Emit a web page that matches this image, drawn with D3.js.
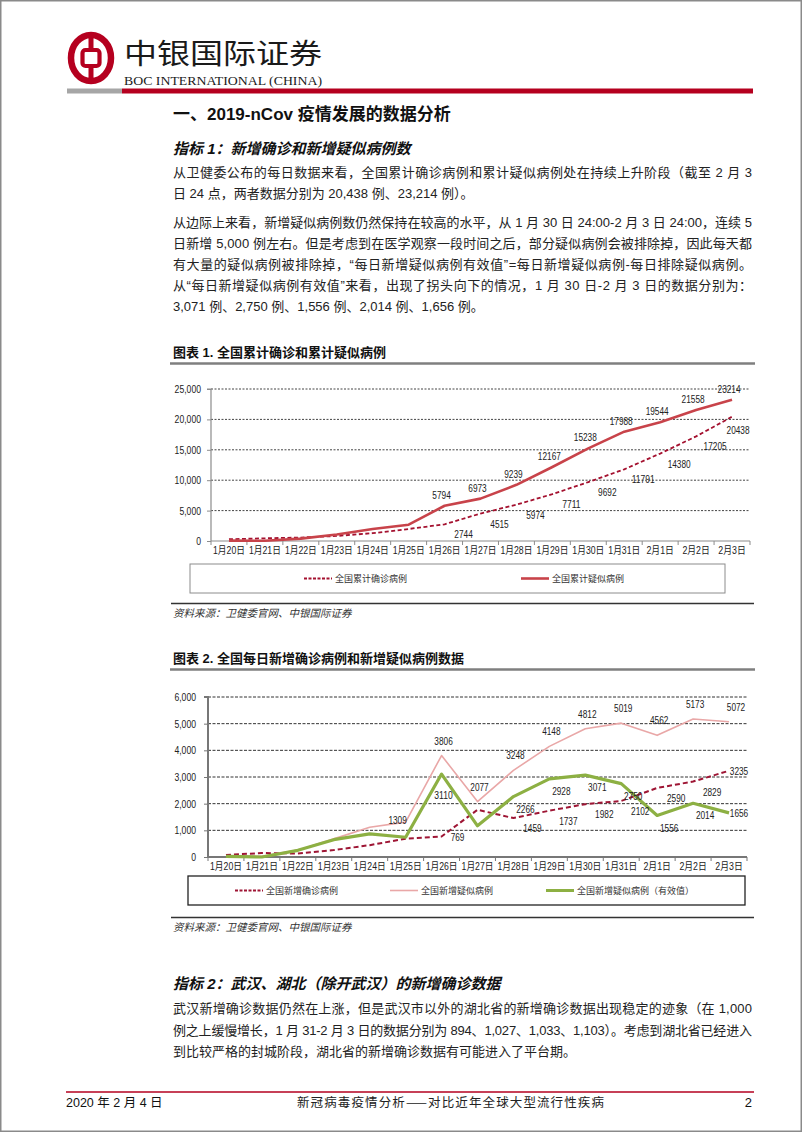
<!DOCTYPE html>
<html><head><meta charset="utf-8">
<script src="https://cdn.jsdelivr.net/npm/d3@7/dist/d3.min.js"></script>
<style>
html,body{margin:0;padding:0;background:#fff;}
svg{display:block;}
</style></head><body>
<svg id="page" width="802" height="1132"></svg>
<script>
// ---------------- DATA ----------------
const dates = ["1月20日","1月21日","1月22日","1月23日","1月24日","1月25日","1月26日","1月27日","1月28日","1月29日","1月30日","1月31日","2月1日","2月2日","2月3日"];

// Chart 1: cumulative
const cumConfirmed = [291,440,571,830,1287,1975,2744,4515,5974,7711,9692,11791,14380,17205,20438];
const cumSuspected = [54,37,393,1072,1965,2684,5794,6973,9239,12167,15238,17988,19544,21558,23214];
const cumTicks = [0,5000,10000,15000,20000,25000];
const cumConfirmedLabeled = [6,7,8,9,10,11,12,13,14];
const cumSuspectedLabeled = [6,7,8,9,10,11,12,13,14];

// Chart 2: daily
const newConfirmed = [77,149,131,259,444,688,769,1771,1459,1737,1982,2102,2590,2829,3235];
const newSuspected = [27,26,257,680,1118,1309,3806,2077,3248,4148,4812,5019,4562,5173,5072];
const newSuspectedEffective = [27,0,250,650,870,740,3110,1170,2266,2928,3071,2750,1556,2014,1656];
const dailyTicks = [0,1000,2000,3000,4000,5000,6000];
const newConfirmedLabeled = [6,8,9,10,11,12,13,14];
const newSuspectedLabeled = [5,6,7,8,9,10,11,12,13,14];
const newEffectiveLabeled = [6,8,9,10,11,12,13,14];

// text content
const para1 = ["从卫健委公布的每日数据来看，全国累计确诊病例和累计疑似病例处在持续上升阶段（截至 2 月 3",
               "日 24 点，两者数据分别为 20,438 例、23,214 例）。"];
const para2 = ["从边际上来看，新增疑似病例数仍然保持在较高的水平，从 1 月 30 日 24:00-2 月 3 日 24:00，连续 5",
               "日新增 5,000 例左右。但是考虑到在医学观察一段时间之后，部分疑似病例会被排除掉，因此每天都",
               "有大量的疑似病例被排除掉，“每日新增疑似病例有效值”=每日新增疑似病例-每日排除疑似病例。",
               "从“每日新增疑似病例有效值”来看，出现了拐头向下的情况，1 月 30 日-2 月 3 日的数据分别为：",
               "3,071 例、2,750 例、1,556 例、2,014 例、1,656 例。"];
const para3 = ["武汉新增确诊数据仍然在上涨，但是武汉市以外的湖北省的新增确诊数据出现稳定的迹象（在 1,000",
               "例之上缓慢增长，1 月 31-2 月 3 日的数据分别为 894、1,027、1,033、1,103）。考虑到湖北省已经进入",
               "到比较严格的封城阶段，湖北省的新增确诊数据有可能进入了平台期。"];

// ---------------- DRAW ----------------
const CJK = "'Noto Sans CJK SC','Noto Sans',sans-serif";
const MIX = "'Liberation Sans Narrow','Liberation Sans','Noto Sans CJK SC',sans-serif";
const SANS = "'Liberation Sans','Noto Sans CJK SC',sans-serif";
const RED = "#B5001F";
const svg = d3.select("#page");

// width of a condensed label: narrow digits, full-width CJK
function condensedLen(s, digitW, cjkW){
  let w = 0;
  for (const ch of String(s)) {
    if (/[0-9]/.test(ch)) w += digitW;
    else if (ch === ",") w += digitW*0.5;
    else w += cjkW;
  }
  return w;
}

// page border
svg.append("rect").attr("x",0.75).attr("y",0.75).attr("width",800.5).attr("height",1130.5)
  .attr("fill","#fff").attr("stroke","#8a8a8a").attr("stroke-width",1.5);

// header logo
const logo = svg.append("g");
logo.append("ellipse").attr("cx",91).attr("cy",58).attr("rx",20).attr("ry",23).attr("fill","none").attr("stroke",RED).attr("stroke-width",6.5);
logo.append("rect").attr("x",88.5).attr("y",33).attr("width",5).attr("height",50).attr("fill",RED);
logo.append("rect").attr("x",82.5).attr("y",50).attr("width",17).attr("height",16).attr("rx",3)
  .attr("fill","#fff").attr("stroke",RED).attr("stroke-width",4.2);
svg.append("text").attr("x",124).attr("y",64).attr("font-family",CJK).attr("font-size",28)
  .attr("textLength",198).attr("lengthAdjust","spacingAndGlyphs").attr("fill","#1a1a1a").text("中银国际证券");
svg.append("text").attr("x",124).attr("y",85).attr("font-family","'Liberation Serif',serif").attr("font-size",13)
  .attr("textLength",198).attr("lengthAdjust","spacingAndGlyphs").attr("fill","#1a1a1a").text("BOC INTERNATIONAL (CHINA)");
svg.append("rect").attr("x",67).attr("y",88.5).attr("width",55).attr("height",5).attr("fill","#a6a6a6");
svg.append("rect").attr("x",122).attr("y",88.5).attr("width",631).attr("height",5).attr("fill",RED);

// headings and paragraphs
function text(x,y,s,o={}){
  const t = svg.append("text").attr("x",x).attr("y",y).text(s)
    .attr("font-family",o.family||MIX).attr("font-size",o.size||13)
    .attr("fill",o.fill||"#222");
  if(o.weight) t.attr("font-weight",o.weight);
  if(o.style) t.attr("font-style",o.style);
  if(o.len) t.attr("textLength",o.len).attr("lengthAdjust",o.adjust||"spacing");
  if(o.anchor) t.attr("text-anchor",o.anchor);
  return t;
}
const LX = 173, LW = 579;
text(LX,120,"一、2019-nCov 疫情发展的数据分析",{size:17,weight:"bold",family:SANS,fill:"#111"});
text(LX,153.5,"指标 1：新增确诊和新增疑似病例数",{size:15,weight:"bold",style:"italic",fill:"#111"});
[177,198].forEach((y,i)=>text(LX,y,para1[i],{len: i<para1.length-1?LW:null}));
[227,248,269,290,311].forEach((y,i)=>text(LX,y,para2[i],{len: i<para2.length-1?LW:null}));

text(LX,989,"指标 2：武汉、湖北（除开武汉）的新增确诊数据",{size:15,weight:"bold",style:"italic",fill:"#111"});
[1013,1034.5,1056].forEach((y,i)=>text(LX,y,para3[i],{len: i<para3.length-1?LW:null}));

// chart helper
function chart(cfg){
  const g = svg.append("g");
  // title
  text(LX,cfg.titleY,cfg.title,{size:13,weight:"bold",fill:"#111"});
  g.append("line").attr("x1",170).attr("x2",755).attr("y1",cfg.titleY+7).attr("y2",cfg.titleY+7)
    .attr("stroke","#7f7f7f").attr("stroke-width",2.5);

  const x = d3.scaleBand().domain(dates).range([cfg.x0,cfg.x1]);
  const y = d3.scaleLinear().domain([0,d3.max(cfg.ticks)]).range([cfg.yb,cfg.yt]);
  const cx = i => x(dates[i]) + x.bandwidth()/2;

  // gridlines
  g.append("g").selectAll("line").data(cfg.ticks.filter(t=>t>0)).join("line")
    .attr("x1",cfg.x0).attr("x2",cfg.x1).attr("y1",d=>y(d)).attr("y2",d=>y(d))
    .attr("stroke",cfg.gridColor).attr("stroke-width",1).attr("stroke-dasharray",cfg.gridDash);

  // y axis
  const fmt = d3.format(",");
  const ya = g.append("g").attr("transform",`translate(${cfg.x0},0)`)
    .call(d3.axisLeft(y).tickValues(cfg.ticks).tickFormat(fmt).tickSize(4).tickPadding(cfg.yPad));
  ya.select(".domain").attr("stroke",cfg.axisColor).attr("stroke-width",cfg.axisWidth).attr("d",`M-4,${cfg.yt}H0V${cfg.yb}`);
  ya.selectAll(".tick line").attr("stroke",cfg.axisColor);
  ya.selectAll(".tick text").attr("font-family",SANS).attr("font-size",11).attr("fill","#222")
    .attr("textLength",d=>condensedLen(fmt(d),4.8,9.5)).attr("lengthAdjust","spacingAndGlyphs");

  // x axis
  const xa = g.append("g").attr("transform",`translate(0,${cfg.yb})`)
    .call(d3.axisBottom(x).tickSize(0).tickPadding(cfg.xPad));
  xa.select(".domain").attr("stroke",cfg.axisColor).attr("stroke-width",cfg.axisWidth).attr("d",`M${cfg.x0},0H${cfg.x1}`);
  xa.selectAll(".tick text").attr("font-family",SANS).attr("font-size",10).attr("fill","#222")
    .attr("textLength",d=>condensedLen(d,4.5,9.2)).attr("lengthAdjust","spacingAndGlyphs");
  xa.append("g").selectAll("line").data(dates.map(d=>x(d)).concat([cfg.x1])).join("line")
    .attr("x1",d=>d).attr("x2",d=>d).attr("y1",0).attr("y2",4).attr("stroke",cfg.axisColor).attr("stroke-width",1);

  // series
  cfg.series.forEach(s=>{
    const line = d3.line().x((d,i)=>cx(i)).y(d=>y(d));
    g.append("path").datum(s.values).attr("d",line).attr("fill","none")
      .attr("stroke",s.color).attr("stroke-width",s.width).attr("stroke-dasharray",s.dash||null)
      .attr("stroke-linejoin","round");
  });
  cfg.series.forEach(s=>{
    g.append("g").selectAll("text").data(s.labeled).join("text")
      .attr("x",i=>cx(i)+s.ldx(i)).attr("y",i=>y(s.values[i])+s.ldy(i))
      .attr("text-anchor","middle").attr("dominant-baseline","central")
      .attr("font-family",SANS).attr("font-size",11).attr("fill","#222")
      .attr("textLength",i=>condensedLen(s.values[i],4.6,9)).attr("lengthAdjust","spacingAndGlyphs")
      .text(i=>s.values[i]);
  });

  // legend box
  const L = cfg.legend;
  g.append("rect").attr("x",L.x).attr("y",L.y).attr("width",L.w).attr("height",L.h)
    .attr("fill","none").attr("stroke",L.stroke).attr("stroke-width",L.sw);
  L.items.forEach((it,k)=>{
    const s = cfg.series[it.s];
    const ly = L.y + L.h/2;
    g.append("line").attr("x1",it.x).attr("x2",it.x+28).attr("y1",ly).attr("y2",ly)
      .attr("stroke",s.color).attr("stroke-width",Math.min(s.width,3)).attr("stroke-dasharray",s.dash?"3,1.5":null);
    g.append("text").attr("x",it.x+31).attr("y",ly).attr("dominant-baseline","central")
      .attr("font-family",CJK).attr("font-size",9).attr("fill","#333").text(s.name);
  });

  // source
  g.append("line").attr("x1",171).attr("x2",754).attr("y1",cfg.srcY).attr("y2",cfg.srcY)
    .attr("stroke","#333").attr("stroke-width",1.5);
  text(LX,cfg.srcY+13.5,"资料来源：卫健委官网、中银国际证券",{size:10.5,style:"italic",fill:"#333",family:CJK});
}

const last = dates.length-1;
chart({
  title:"图表 1. 全国累计确诊和累计疑似病例", titleY:356.5,
  x0:211, x1:750, yt:389, yb:541, ticks:cumTicks,
  gridColor:"#444", gridDash:"2,1.5", axisColor:"#8c8c8c", axisWidth:1.2, yPad:6, xPad:6,
  series:[
    {name:"全国累计确诊病例", values:cumConfirmed, labeled:cumConfirmedLabeled, color:"#A4112F", width:1.8, dash:"4,2.5",
     ldx:i=>i===last?6:19, ldy:i=>i===last?13:10},
    {name:"全国累计疑似病例", values:cumSuspected, labeled:cumSuspectedLabeled, color:"#C8434A", width:2.6,
     ldx:i=>-3, ldy:i=>-11}
  ],
  legend:{x:190,y:564,w:535,h:29,stroke:"#8c8c8c",sw:1,items:[{s:0,x:304},{s:1,x:521}]},
  srcY:603.5
});

chart({
  title:"图表 2. 全国每日新增确诊病例和新增疑似病例数据", titleY:662.5,
  x0:208, x1:747, yt:697, yb:857, ticks:dailyTicks,
  gridColor:"#333", gridDash:"3,1.5", axisColor:"#777", axisWidth:2, yPad:8, xPad:6,
  series:[
    {name:"全国新增确诊病例", values:newConfirmed, labeled:newConfirmedLabeled, color:"#9E1534", width:2, dash:"5,3",
     ldx:i=>i===last?10:(i===6?16:19), ldy:i=>i===last?0:(i===6?1:10)},
    {name:"全国新增疑似病例", values:newSuspected, labeled:newSuspectedLabeled, color:"#E9A7A7", width:1.6,
     ldx:i=>i===5?-8:(i===last?7:2), ldy:i=>i===5?-2:-15},
    {name:"全国新增疑似病例（有效值）", values:newSuspectedEffective, labeled:newEffectiveLabeled, color:"#8DB043", width:3.2,
     ldx:i=>i===last?10:(i===6?2:12), ldy:i=>i===last?0:(i===6?21:12)}
  ],
  legend:{x:188,y:876,w:557,h:29,stroke:"#222",sw:1.3,items:[{s:0,x:235},{s:1,x:390},{s:2,x:546}]},
  srcY:917.5
});

// footer
svg.append("line").attr("x1",66).attr("x2",754).attr("y1",1092).attr("y2",1092).attr("stroke",RED).attr("stroke-width",1.5);
text(66,1107,"2020 年 2 月 4 日",{size:12.5,fill:"#111"});
text(297,1107,"新冠病毒疫情分析——对比近年全球大型流行性疾病",{size:12.5,fill:"#222",family:CJK,len:307,adjust:"spacing"});
text(752,1107,"2",{size:13,fill:"#111",anchor:"end"});
</script>
</body></html>
